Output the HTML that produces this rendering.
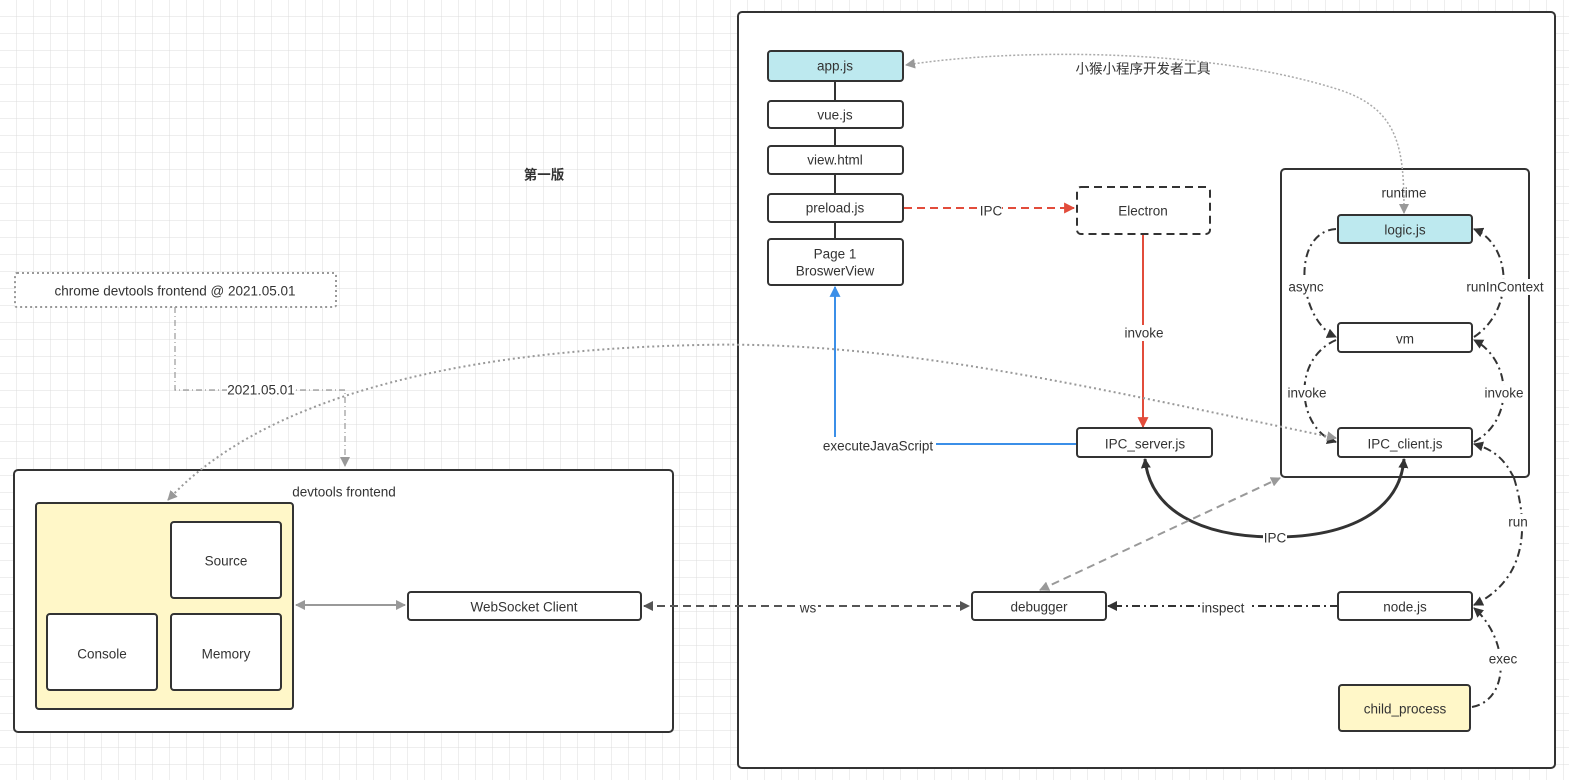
<!DOCTYPE html>
<html><head><meta charset="utf-8"><style>
html,body{margin:0;padding:0;background:#fff;}
svg{display:block;font-family:"Liberation Sans","Noto Sans CJK SC",sans-serif;}
text{font-size:13.5px;fill:#333;text-anchor:middle;dominant-baseline:central;}
</style></head><body>
<svg width="1569" height="780" viewBox="0 0 1569 780" xmlns="http://www.w3.org/2000/svg">
<defs>
<pattern id="g" width="17" height="17" patternUnits="userSpaceOnUse"><path d="M17 0V17H0" fill="none" stroke="#dcdcdc" stroke-width="1"/></pattern>
<marker id="ak" viewBox="0 0 10 10" refX="9" refY="5" markerWidth="10" markerHeight="10" markerUnits="userSpaceOnUse" orient="auto-start-reverse"><path d="M0 0L10 5L0 10z" fill="#333"/></marker>
<marker id="ag" viewBox="0 0 10 10" refX="9" refY="5" markerWidth="10" markerHeight="10" markerUnits="userSpaceOnUse" orient="auto-start-reverse"><path d="M0 0L10 5L0 10z" fill="#999"/></marker>
<marker id="ad" viewBox="0 0 10 10" refX="9" refY="5" markerWidth="10" markerHeight="10" markerUnits="userSpaceOnUse" orient="auto-start-reverse"><path d="M0 0L10 5L0 10z" fill="#555"/></marker>
<marker id="ar" viewBox="0 0 10 10" refX="9" refY="5" markerWidth="11" markerHeight="11" markerUnits="userSpaceOnUse" orient="auto"><path d="M0 0L10 5L0 10z" fill="#e24c3b"/></marker>
<marker id="ab" viewBox="0 0 10 10" refX="9" refY="5" markerWidth="11" markerHeight="11" markerUnits="userSpaceOnUse" orient="auto"><path d="M0 0L10 5L0 10z" fill="#3b8fe8"/></marker>
</defs>
<rect width="1569" height="780" fill="url(#g)"/>
<!-- big box -->
<rect x="738" y="12" width="817" height="756" rx="4" fill="#fff" stroke="#333" stroke-width="2"/>
<text x="1143" y="69">小猴小程序开发者工具</text>
<text x="544" y="175" style="font-weight:bold">第一版</text>
<path d="M835 81V101M835 128V146M835 174V194M835 222V239" stroke="#333" stroke-width="2"/>
<rect x="768" y="51" width="135" height="30" rx="3" fill="#bde9ef" stroke="#333" stroke-width="2"/><text x="835" y="66">app.js</text>
<rect x="768" y="101" width="135" height="27" rx="3" fill="#fff" stroke="#333" stroke-width="2"/><text x="835" y="115">vue.js</text>
<rect x="768" y="146" width="135" height="28" rx="3" fill="#fff" stroke="#333" stroke-width="2"/><text x="835" y="160">view.html</text>
<rect x="768" y="194" width="135" height="28" rx="3" fill="#fff" stroke="#333" stroke-width="2"/><text x="835" y="208">preload.js</text>
<rect x="768" y="239" width="135" height="46" rx="3" fill="#fff" stroke="#333" stroke-width="2"/><text x="835" y="254">Page 1</text><text x="835" y="271">BroswerView</text>
<rect x="1077" y="187" width="133" height="47" rx="4" fill="#fff" stroke="#333" stroke-width="2" stroke-dasharray="8,5"/><text x="1143" y="211">Electron</text>
<rect x="1281" y="169" width="248" height="308" rx="4" fill="#fff" stroke="#333" stroke-width="2"/>
<text x="1404" y="193">runtime</text>
<g fill="none" stroke="#333" stroke-width="2" stroke-dasharray="8,4,2,4">
<path d="M1336 229C1290 232 1298 320 1336 337" marker-end="url(#ak)"/>
<path d="M1474 337C1515 310 1512 245 1474 229" marker-end="url(#ak)"/>
<path d="M1336 340C1290 360 1298 430 1336 442" marker-end="url(#ak)"/>
<path d="M1474 442C1515 420 1512 360 1474 340" marker-end="url(#ak)"/>
<path d="M1514 478C1530 530 1525 580 1474 605" marker-end="url(#ak)"/>
<path d="M1514 478C1505 460 1495 450 1474 444" marker-end="url(#ak)"/>
<path d="M1472 707C1510 700 1510 640 1474 608" marker-end="url(#ak)"/>
<path d="M1338 606H1108" marker-end="url(#ak)"/>
</g>
<rect x="1338" y="215" width="134" height="28" rx="3" fill="#bde9ef" stroke="#333" stroke-width="2"/><text x="1405" y="230">logic.js</text>
<rect x="1338" y="323" width="134" height="29" rx="3" fill="#fff" stroke="#333" stroke-width="2"/><text x="1405" y="339">vm</text>
<rect x="1338" y="428" width="134" height="29" rx="3" fill="#fff" stroke="#333" stroke-width="2"/><text x="1405" y="444">IPC_client.js</text>
<g><rect x="1289" y="279" width="36" height="16" fill="#fff"/><text x="1306" y="287">async</text>
<rect x="1464" y="279" width="82" height="16" fill="#fff"/><text x="1505" y="287">runInContext</text>
<rect x="1286" y="385" width="42" height="16" fill="#fff"/><text x="1307" y="393">invoke</text>
<rect x="1483" y="385" width="42" height="16" fill="#fff"/><text x="1504" y="393">invoke</text>
<rect x="1507" y="514" width="22" height="16" fill="#fff"/><text x="1518" y="522">run</text>
<rect x="1488" y="651" width="30" height="16" fill="#fff"/><text x="1503" y="659">exec</text></g>
<path d="M1404 213C1404 150 1400 110 1340 90C1200 45 1000 50 906 65" fill="none" stroke="#aaa" stroke-width="1.5" stroke-dasharray="2,2" marker-start="url(#ag)" marker-end="url(#ag)"/>
<path d="M904 208H1074" fill="none" stroke="#e24c3b" stroke-width="2" stroke-dasharray="8,5" marker-end="url(#ar)"/>
<rect x="980" y="203" width="22" height="16" fill="#fff"/><text x="991" y="211">IPC</text>
<path d="M1143 235V427" stroke="#e24c3b" stroke-width="2" marker-end="url(#ar)"/>
<rect x="1122" y="325" width="44" height="16" fill="#fff"/><text x="1144" y="333">invoke</text>
<path d="M1077 444H835V287" fill="none" stroke="#3b8fe8" stroke-width="2" marker-end="url(#ab)"/>
<rect x="820" y="437" width="116" height="16" fill="#fff"/><text x="878" y="446">executeJavaScript</text>
<rect x="1077" y="428" width="135" height="29" rx="3" fill="#fff" stroke="#333" stroke-width="2"/><text x="1145" y="444">IPC_server.js</text>
<path d="M1145 459C1150 510 1200 537 1275 537C1350 537 1400 510 1404 459" fill="none" stroke="#333" stroke-width="3" marker-start="url(#ak)" marker-end="url(#ak)"/>
<rect x="1263" y="530" width="24" height="16" fill="#fff"/><text x="1275" y="538">IPC</text>
<path d="M1040 590L1280 478" stroke="#999" stroke-width="2" stroke-dasharray="8,5" marker-start="url(#ag)" marker-end="url(#ag)"/>
<rect x="972" y="592" width="134" height="28" rx="3" fill="#fff" stroke="#333" stroke-width="2"/><text x="1039" y="607">debugger</text>
<rect x="1338" y="592" width="134" height="28" rx="3" fill="#fff" stroke="#333" stroke-width="2"/><text x="1405" y="607">node.js</text>
<rect x="1200" y="600" width="48" height="16" fill="#fff"/><text x="1223" y="608">inspect</text>
<rect x="1339" y="685" width="131" height="46" rx="3" fill="#fff7c8" stroke="#333" stroke-width="2"/><text x="1405" y="709">child_process</text>
<!-- left -->
<rect x="15" y="273" width="321" height="34" rx="2" fill="#fff" stroke="#999" stroke-width="2" stroke-dasharray="2,3"/><text x="175" y="291">chrome devtools frontend @ 2021.05.01</text>
<path d="M175 307V390H345V466" fill="none" stroke="#999" stroke-width="1.2" stroke-dasharray="6,3,1,3" marker-end="url(#ag)"/>
<rect x="227" y="382" width="68" height="16" fill="#fff"/><text x="261" y="390">2021.05.01</text>
<rect x="14" y="470" width="659" height="262" rx="4" fill="#fff" stroke="#333" stroke-width="2"/>
<text x="344" y="492">devtools frontend</text>
<rect x="36" y="503" width="257" height="206" rx="3" fill="#fff7c8" stroke="#333" stroke-width="2"/>
<rect x="171" y="522" width="110" height="76" rx="3" fill="#fff" stroke="#333" stroke-width="2"/><text x="226" y="561">Source</text>
<rect x="47" y="614" width="110" height="76" rx="3" fill="#fff" stroke="#333" stroke-width="2"/><text x="102" y="654">Console</text>
<rect x="171" y="614" width="110" height="76" rx="3" fill="#fff" stroke="#333" stroke-width="2"/><text x="226" y="654">Memory</text>
<path d="M296 605H405" stroke="#999" stroke-width="2" marker-start="url(#ag)" marker-end="url(#ag)"/>
<rect x="408" y="592" width="233" height="28" rx="3" fill="#fff" stroke="#333" stroke-width="2"/><text x="524" y="607">WebSocket Client</text>
<path d="M644 606H969" stroke="#555" stroke-width="2" stroke-dasharray="8,5" marker-start="url(#ad)" marker-end="url(#ad)"/>
<rect x="798" y="600" width="20" height="16" fill="#fff"/><text x="808" y="608">ws</text>
<!-- long dotted curve on top -->
<path d="M1336 438C1100 390 900 340 700 345C450 350 260 400 168 500" fill="none" stroke="#999" stroke-width="2" stroke-dasharray="2,3" marker-start="url(#ag)" marker-end="url(#ag)"/>
</svg>
</body></html>
